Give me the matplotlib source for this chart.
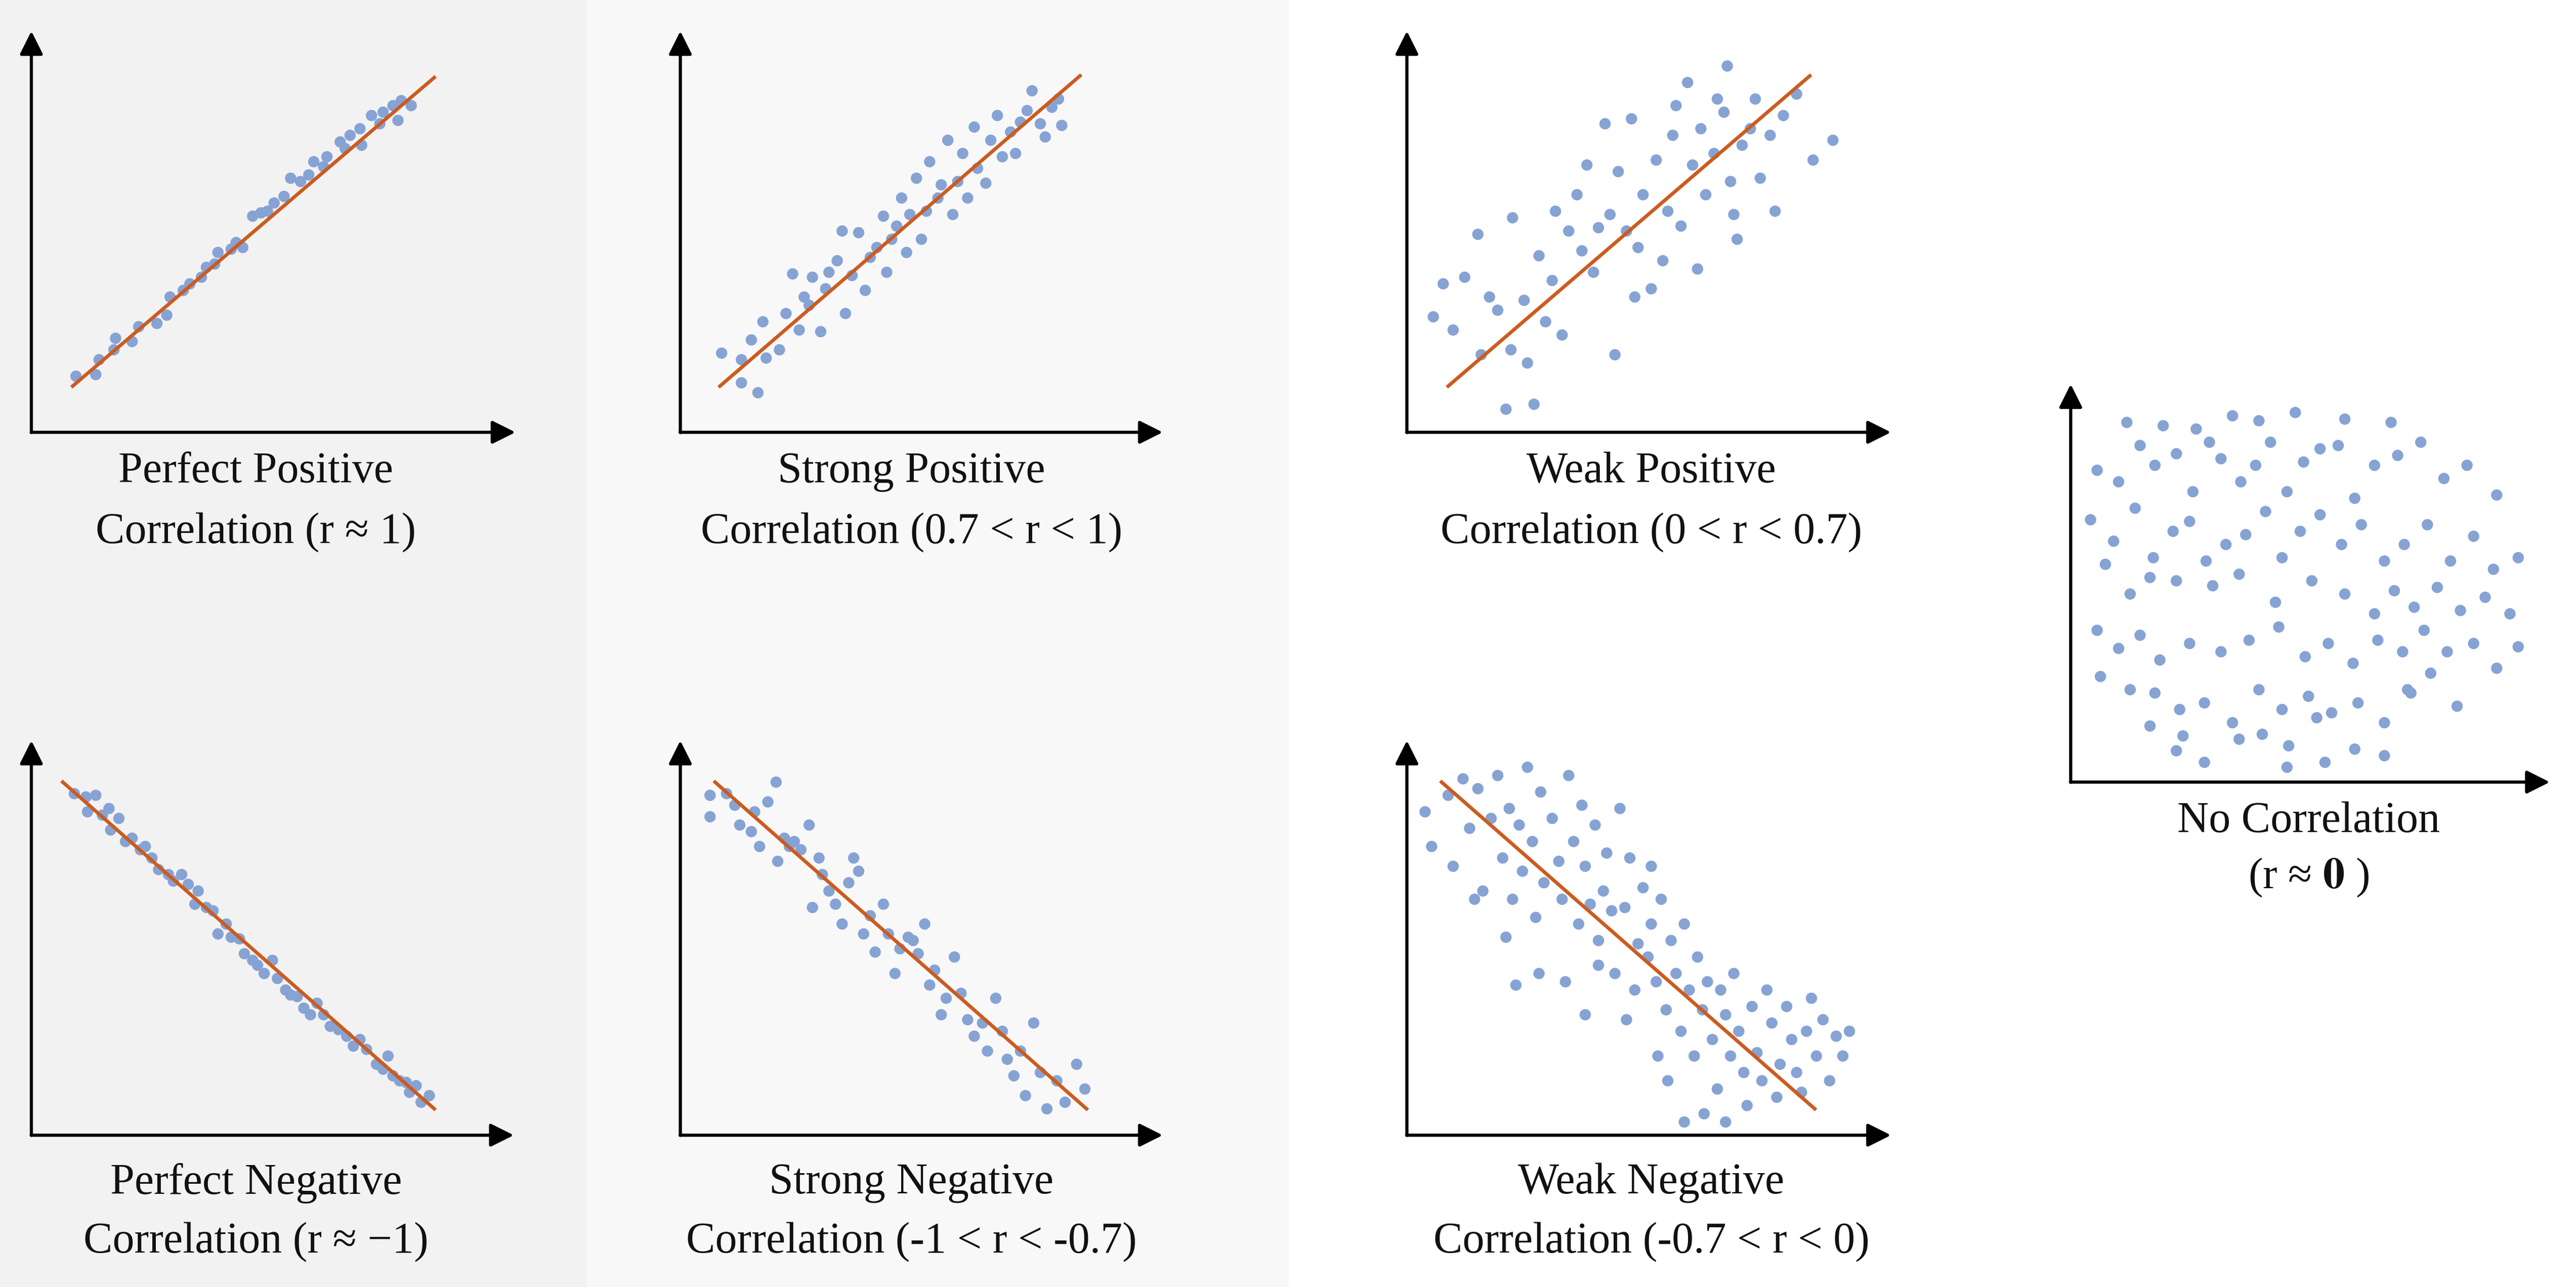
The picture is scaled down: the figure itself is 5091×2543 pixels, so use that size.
import matplotlib
matplotlib.use("Agg")
import matplotlib.pyplot as plt

plt.rcParams['mathtext.fontset'] = 'stix'

# Points are in reference pixel coordinates (x right, y down)
pp = [(46,228),(58,227),(60,218),(69,212),(70,205),(80,207),(84,198),(95,196),(101,191),(103,180),(111,176),(115,172),(122,168),(125,162),(130,160),(132,153),(140,151),(143,147),(147,150),(153,131),(158,129),(162,128),(166,123),(172,119),(176,108),(182,110),(187,106),(190,98),(196,101),(198,95),(206,86),(209,90),(212,82),(218,78),(219,88),(225,70),(230,75),(232,68),(238,64),(241,73),(243,61),(249,64)]
sp = [(437,214),(449,218),(449,232),(459,238),(455,206),(462,195),(464,217),(472,212),(476,190),(480,166),(484,200),(487,180),(490,185),(492,168),(497,201),(500,175),(502,165),(507,158),(510,140),(512,190),(516,167),(520,141),(524,176),(527,156),(531,150),(535,131),(537,165),(540,145),(543,137),(546,120),(549,153),(551,130),(555,108),(558,145),(561,128),(563,98),(568,120),(570,112),(574,85),(577,130),(580,110),(583,93),(586,120),(590,77),(592,102),(597,111),(600,85),(604,70),(607,95),(612,80),(615,93),(618,74),(622,67),(625,55),(630,75),(633,83),(637,65),(641,60),(643,76)]
wp = [(868,192),(874,172),(880,200),(887,168),(895,142),(897,215),(902,180),(907,188),(912,248),(915,212),(916,132),(923,182),(925,220),(929,245),(932,155),(936,195),(940,170),(942,128),(946,203),(950,140),(955,118),(958,152),(961,100),(965,165),(968,138),(972,75),(975,130),(978,215),(980,104),(985,140),(988,72),(990,180),(992,150),(995,118),(1000,175),(1003,97),(1007,158),(1010,128),(1013,82),(1015,64),(1018,137),(1022,50),(1025,100),(1028,163),(1030,78),(1033,118),(1038,93),(1040,60),(1044,68),(1046,40),(1048,110),(1050,130),(1052,145),(1055,88),(1060,78),(1063,60),(1066,108),(1072,82),(1075,128),(1080,70),(1088,57),(1098,97),(1110,85)]
nc = [(1288,256),(1310,258),(1330,260),(1352,252),(1368,255),(1390,250),(1420,254),(1448,256),(1270,285),(1283,292),(1296,270),(1305,282),(1318,275),(1328,298),(1338,268),(1345,278),(1357,292),(1366,282),(1375,268),(1385,298),(1395,280),(1405,272),(1416,270),(1426,302),(1438,282),(1452,276),(1466,268),(1480,290),(1494,282),(1512,300),(1266,315),(1280,328),(1293,308),(1304,338),(1316,322),(1326,316),(1336,340),(1348,330),(1360,324),(1372,310),(1382,338),(1393,322),(1405,312),(1418,330),(1430,318),(1444,340),(1456,330),(1470,318),(1484,340),(1498,325),(1510,345),(1525,338),(1275,342),(1290,360),(1302,350),(1318,352),(1340,355),(1356,348),(1378,365),(1400,352),(1420,360),(1438,372),(1450,358),(1462,368),(1476,356),(1490,370),(1505,362),(1520,372),(1270,382),(1283,393),(1296,385),(1308,400),(1326,390),(1345,395),(1362,388),(1380,380),(1396,398),(1410,390),(1425,402),(1440,388),(1455,395),(1468,382),(1482,395),(1498,390),(1512,405),(1525,392),(1272,410),(1290,418),(1305,420),(1320,430),(1335,426),(1352,438),(1368,418),(1382,430),(1398,422),(1412,432),(1428,426),(1444,438),(1458,418),(1472,408),(1488,428),(1302,440),(1318,455),(1335,462),(1356,448),(1370,445),(1385,465),(1408,462),(1426,454),(1444,458),(1386,452),(1322,446),(1460,420),(1403,435)]
pn = [(45,481),(52,483),(58,482),(53,492),(62,494),(66,490),(67,503),(72,496),(76,510),(80,508),(85,515),(88,513),(92,520),(96,527),(102,530),(105,534),(110,530),(114,536),(118,548),(120,540),(125,550),(129,552),(132,566),(137,560),(140,568),(145,569),(148,578),(153,582),(156,585),(160,590),(165,582),(168,593),(173,600),(176,603),(180,604),(184,611),(188,615),(192,608),(196,615),(200,622),(205,624),(210,628),(214,634),(218,630),(222,636),(228,645),(232,648),(235,640),(238,652),(242,655),(246,656),(248,662),(252,658),(255,668),(260,664)]
sn = [(430,482),(440,481),(445,488),(430,495),(448,500),(455,504),(457,492),(460,513),(465,486),(470,474),(471,522),(475,508),(478,513),(481,510),(485,515),(490,500),(492,550),(496,520),(498,530),(502,540),(506,548),(510,560),(514,535),(517,520),(520,528),(523,566),(527,555),(530,577),(535,548),(538,566),(542,590),(545,575),(550,568),(553,570),(556,578),(560,560),(563,597),(566,588),(570,615),(573,605),(578,580),(582,602),(586,618),(590,628),(595,620),(598,637),(603,605),(607,625),(610,642),(614,652),(618,637),(621,664),(626,620),(630,650),(634,672),(640,655),(645,668),(652,645),(657,660)]
wn = [(863,492),(867,513),(877,482),(880,525),(886,472),(890,502),(895,478),(898,540),(903,496),(907,470),(910,520),(914,490),(916,545),(920,500),(922,528),(925,465),(928,510),(930,556),(933,480),(935,535),(940,496),(944,522),(946,545),(950,470),(953,510),(956,560),(958,488),(960,525),(963,548),(966,500),(968,570),(971,540),(973,517),(976,552),(978,590),(981,490),(984,550),(987,520),(990,600),(992,572),(995,538),(998,580),(1000,560),(1003,595),(1006,545),(1009,612),(1012,570),(1015,590),(1018,625),(1020,560),(1023,600),(1026,640),(1028,580),(1031,612),(1034,595),(1037,630),(1040,660),(1042,600),(1045,615),(1048,640),(1050,590),(1053,625),(1056,650),(1058,670),(1061,610),(1064,638),(1067,655),(1070,600),(1073,620),(1076,665),(1078,645),(1082,610),(1085,630),(1088,650),(1091,662),(1094,625),(1097,605),(1100,640),(1104,618),(1108,655),(1112,628),(1116,640),(1120,625),(918,597),(932,590),(948,595),(985,618),(1004,640),(1020,680),(1045,680),(1032,675),(968,585),(893,545),(912,568),(1000,525),(960,615),(1010,655)]

series = [pp, sp, wp, nc, pn, sn, wn]
fit_lines = [((44,234),(263,47)), ((436,234),(654,46)), ((877,234),(1096,46)),
             ((38,474),(263,672)), ((433,474),(658,672)), ((873,474),(1099,672))]
# axes: (x0, ybottom, ytop, xright)
axes_def = [(19,262,18,313),(412,262,18,705),(852,262,18,1146),(1254,474,232,1545),
            (19,688,448,312),(412,688,448,705),(852,688,448,1146)]
labels = [(155,"Perfect Positive","Correlation (r ≈ 1)",286,323),
          (552,"Strong Positive","Correlation (0.7 < r < 1)",286,323),
          (1000,"Weak Positive","Correlation (0 < r < 0.7)",286,323),
          (1398,"No Correlation","(r ≈ $\\mathbf{0}$ )",498,532),
          (155,"Perfect Negative","Correlation (r ≈ −1)",717,753),
          (552,"Strong Negative","Correlation (-1 < r < -0.7)",717,753),
          (1000,"Weak Negative","Correlation (-0.7 < r < 0)",717,753)]

fig = plt.figure(figsize=(50.91, 25.43), dpi=100)
ax = fig.add_axes([0, 0, 1, 1])
ax.set_xlim(0, 1560)
ax.set_ylim(780, 0)
ax.axis('off')
ax.axvspan(0, 355, color='#f2f2f2', zorder=0)
ax.axvspan(355, 780, color='#f8f8f8', zorder=0)

for (x0, yb, yt, xr) in axes_def:
    ax.annotate('', xy=(x0, yt), xytext=(x0, yb + 1),
                arrowprops=dict(arrowstyle='-|>', color='black', lw=4.5, mutation_scale=70))
    ax.annotate('', xy=(xr, yb), xytext=(x0 - 1, yb),
                arrowprops=dict(arrowstyle='-|>', color='black', lw=4.5, mutation_scale=70))

for pts in series:
    xs = [p[0] for p in pts]; ys = [p[1] for p in pts]
    ax.scatter(xs, ys, s=260, color='#86a3d4', edgecolors='none', zorder=2)

for (a, b) in fit_lines:
    ax.plot([a[0], b[0]], [a[1], b[1]], color='#cc5b1f', lw=5, zorder=3)

for (cx, l1, l2, y1, y2) in labels:
    ax.text(cx, y1, l1, ha='center', va='center', fontsize=62, family='Liberation Serif', color='#111111')
    ax.text(cx, y2, l2, ha='center', va='center', fontsize=62, family='Liberation Serif', color='#111111')

fig.savefig('out.png', dpi=100)
